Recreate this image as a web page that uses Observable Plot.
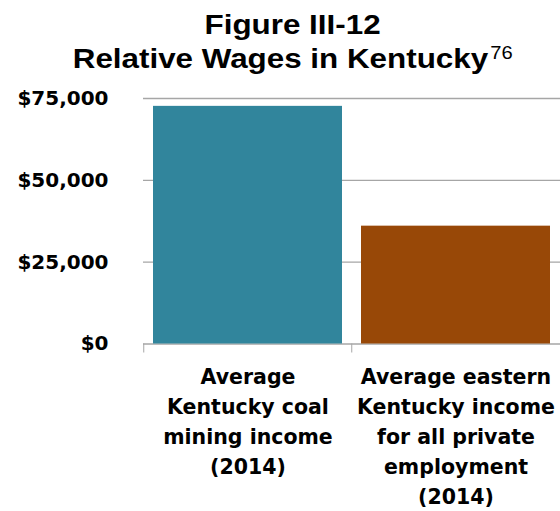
<!DOCTYPE html>
<html><head><meta charset="utf-8">
<script src="https://cdn.jsdelivr.net/npm/d3@7"></script>
<script src="https://cdn.jsdelivr.net/npm/@observablehq/plot@0.6"></script>
<style>
body{margin:0;background:#fff;}
#title{position:relative;z-index:2;height:70px;width:560px;font-family:"Liberation Sans",Arial,sans-serif;font-weight:bold;color:#000;}
.tl{position:absolute;left:0;width:560px;text-align:center;font-size:28px;line-height:28px;white-space:nowrap;}
.s{position:relative;display:inline-block;transform:scaleX(1.12);transform-origin:center;}
.sup{position:absolute;left:100%;top:-1px;font-size:18px;font-weight:normal;line-height:18px;margin-left:2px;}
#chart{position:relative;z-index:1;}
</style></head><body>
<div id="title">
  <div class="tl" style="top:11px;left:13px"><span class="s">Figure III-12</span></div>
  <div class="tl" style="top:45px"><span class="s">Relative Wages in Kentucky<span class="sup">76</span></span></div>
</div>
<div id="chart"></div>
<script>
const categories = ["Average Kentucky coal mining income (2014)", "Average eastern Kentucky income for all private employment (2014)"];
const labels = ["Average\nKentucky coal\nmining income\n(2014)", "Average eastern\nKentucky income\nfor all private\nemployment\n(2014)"];
const values = [72600, 36000];
const colors = ["#31859C", "#984807"];
const yTicks = [0, 25000, 50000, 75000];

const data = categories.map((c, i) => ({category: c, label: labels[i], value: values[i]}));

const chart = Plot.plot({
  width: 560, height: 441,
  marginLeft: 143, marginRight: 0, marginTop: 28, marginBottom: 167.5,
  style: {fontFamily: "DejaVu Sans", fontWeight: "bold", fontSize: "20px", color: "#000", background: "transparent"},
  x: {type: "band", domain: categories, paddingInner: 0.09, paddingOuter: 0.045, axis: null},
  y: {domain: [0, 75000], ticks: yTicks},
  color: {domain: categories, range: colors},
  marks: [
    Plot.gridY(yTicks, {stroke: "#a6a6a6", strokeOpacity: 1, strokeWidth: 1.3}),
    Plot.barY(data, {x: "category", y: "value", fill: "category"}),
    Plot.axisY(yTicks, {tickSize: 0, tickPadding: 35, tickFormat: d => "$" + d3.format(",")(d), fontSize: 20, fontWeight: "bold", label: null}),
    Plot.axisX({tickSize: 9, tickFormat: () => "", dx: -104.25, stroke: "#a6a6a6", label: null}),
    Plot.text(data, {x: "category", y: 0, text: "label", lineAnchor: "top", dy: 19.3, lineHeight: 1.4537, fontSize: 20.5, fontWeight: "bold", fill: "#000"})
  ]
});
document.getElementById("chart").appendChild(chart);
</script>
</body></html>
